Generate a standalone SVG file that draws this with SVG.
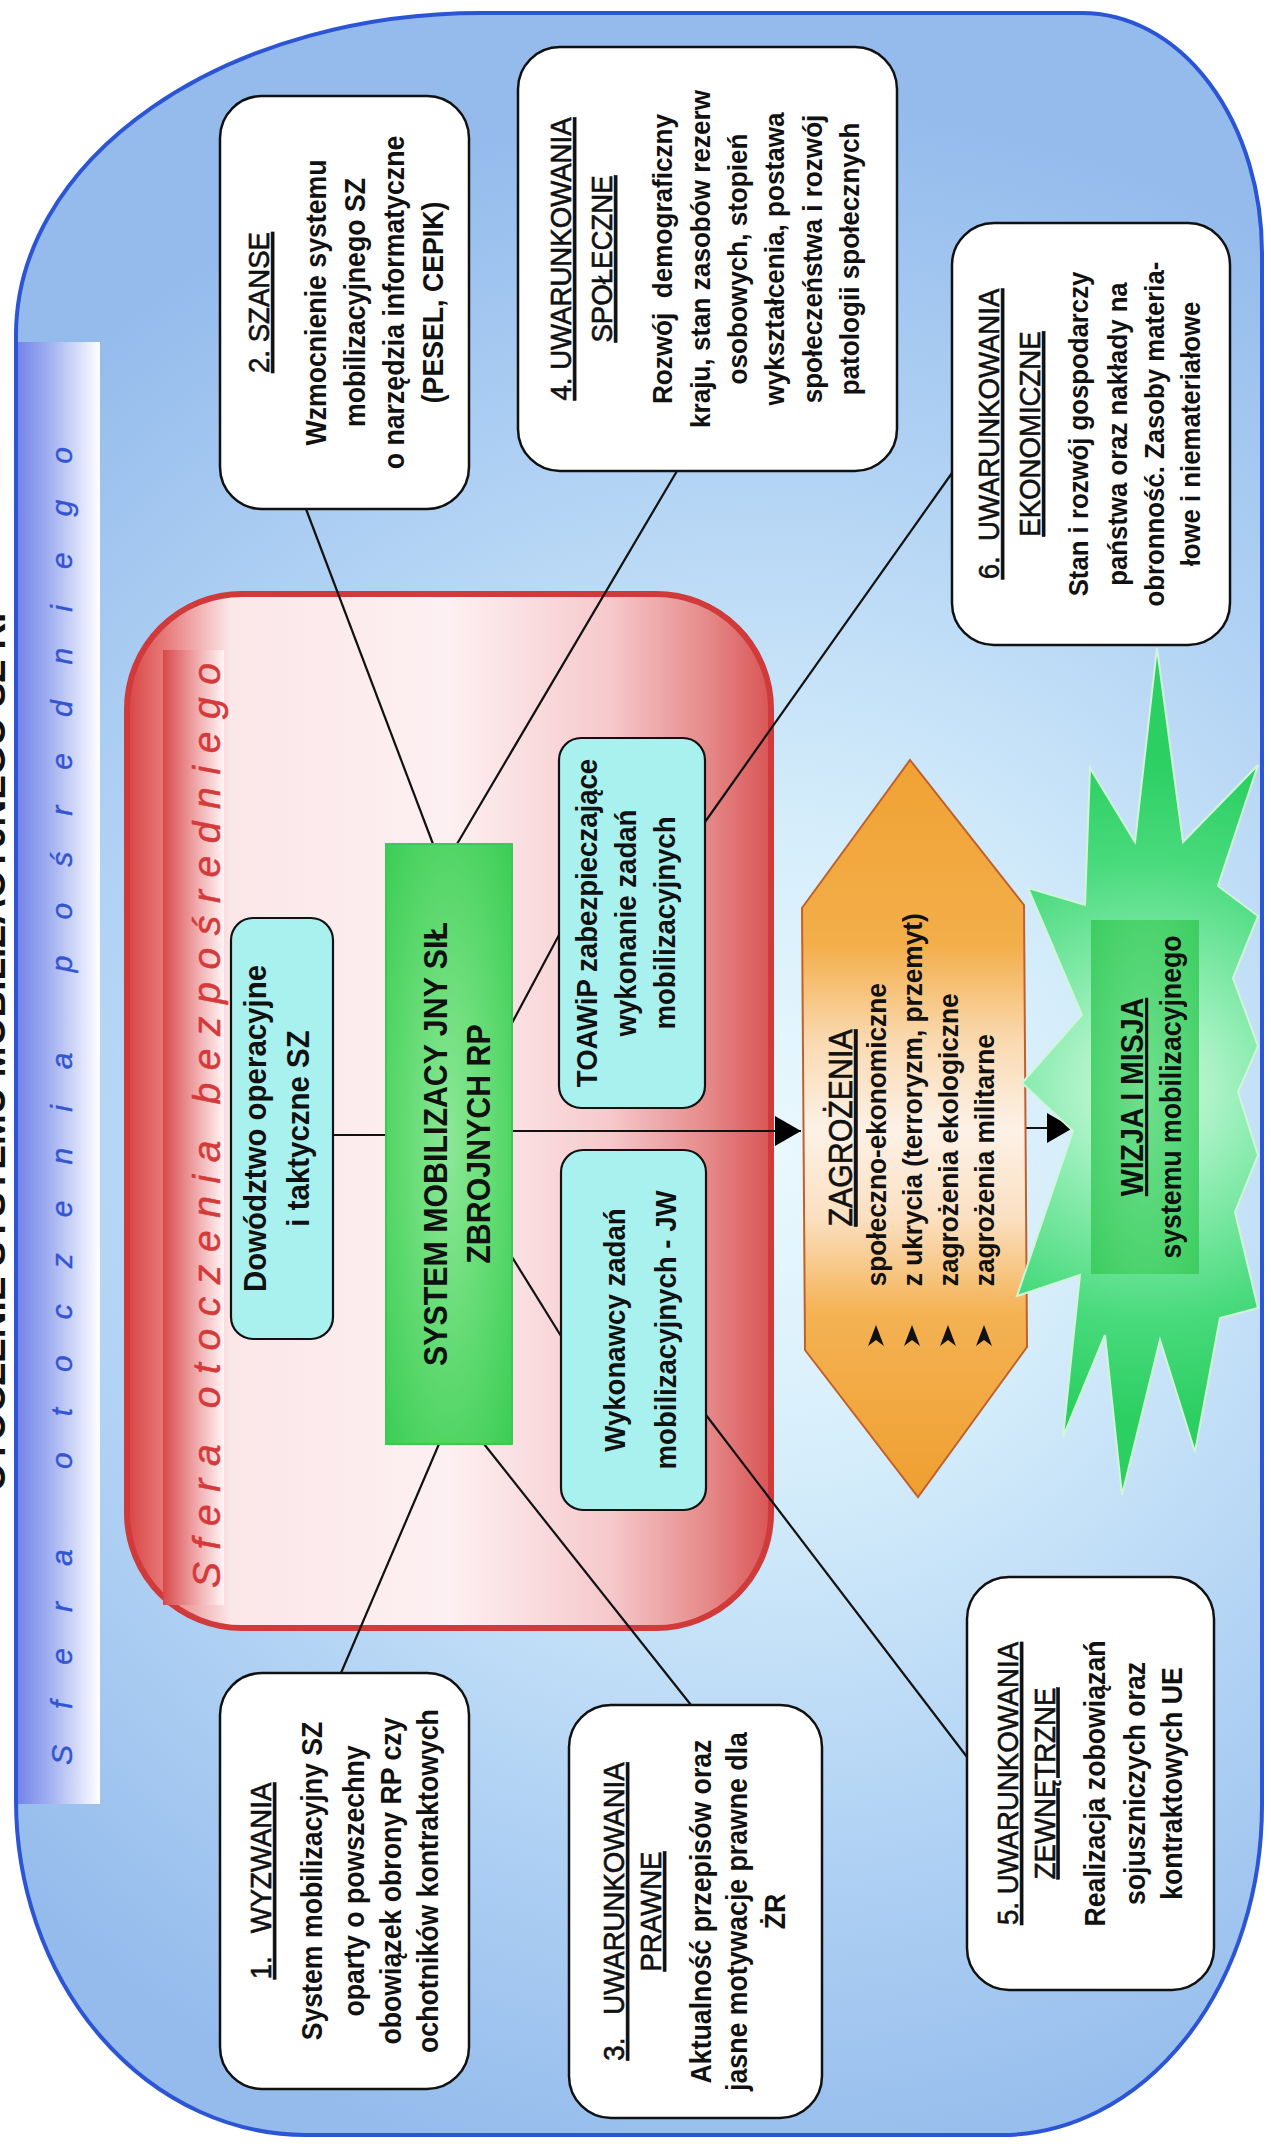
<svg xmlns="http://www.w3.org/2000/svg" width="1271" height="2144" viewBox="0 0 1271 2144">
<defs>
  <radialGradient id="gBlue" gradientUnits="userSpaceOnUse" cx="760" cy="1150" r="1050">
    <stop offset="0" stop-color="#eaf8fd"/>
    <stop offset="0.3" stop-color="#d6eefb"/>
    <stop offset="0.65" stop-color="#b2d3f4"/>
    <stop offset="1" stop-color="#94bbec"/>
  </radialGradient>
  <linearGradient id="gBandB" x1="0" y1="0" x2="1" y2="0">
    <stop offset="0" stop-color="#7585ea"/>
    <stop offset="0.35" stop-color="#9cacf0"/>
    <stop offset="1" stop-color="#ffffff"/>
  </linearGradient>
  <linearGradient id="gRed" x1="0" y1="0" x2="1" y2="0">
    <stop offset="0" stop-color="#d84545"/>
    <stop offset="0.06" stop-color="#e77a7a"/>
    <stop offset="0.16" stop-color="#fbe6e8"/>
    <stop offset="0.5" stop-color="#fdf0f2"/>
    <stop offset="0.75" stop-color="#f6c9cc"/>
    <stop offset="0.9" stop-color="#e68a8a"/>
    <stop offset="1" stop-color="#d95555"/>
  </linearGradient>
  <linearGradient id="gBandR" x1="0" y1="0" x2="1" y2="0">
    <stop offset="0" stop-color="#d8484a"/>
    <stop offset="0.5" stop-color="#eea0a2"/>
    <stop offset="1" stop-color="#fff5f5"/>
  </linearGradient>
  <radialGradient id="gGreen" cx="0.5" cy="0.5" r="0.7">
    <stop offset="0" stop-color="#8ce896"/>
    <stop offset="0.6" stop-color="#5bd86c"/>
    <stop offset="1" stop-color="#3ccd55"/>
  </radialGradient>
  <linearGradient id="gHex" x1="0" y1="0" x2="0" y2="1">
    <stop offset="0" stop-color="#f0a233"/>
    <stop offset="0.25" stop-color="#f3ae4a"/>
    <stop offset="0.38" stop-color="#fad9b0"/>
    <stop offset="0.5" stop-color="#fdf1e6"/>
    <stop offset="0.62" stop-color="#fbe0c2"/>
    <stop offset="0.75" stop-color="#f4b253"/>
    <stop offset="1" stop-color="#ef9f30"/>
  </linearGradient>
  <radialGradient id="gStar" gradientUnits="userSpaceOnUse" cx="1145" cy="1090" r="330">
    <stop offset="0" stop-color="#d8fbe4"/>
    <stop offset="0.35" stop-color="#8cecb0"/>
    <stop offset="0.7" stop-color="#48da7c"/>
    <stop offset="1" stop-color="#2ccf62"/>
  </radialGradient>
  <radialGradient id="gWiz" cx="0.5" cy="0.5" r="0.7">
    <stop offset="0" stop-color="#6fe08e"/>
    <stop offset="1" stop-color="#3dcd60"/>
  </radialGradient>
  <marker id="ah" markerUnits="userSpaceOnUse" markerWidth="28" markerHeight="30" refX="26" refY="15" orient="auto">
    <path d="M0,0 L26,15 L0,30 Z" fill="#000"/>
  </marker>
  <path id="bul" d="M0,-11 L8,10 L0,4 L-8,10 Z" fill="#111"/>
</defs>
<style>
  .box{fill:#ffffff;stroke:#111;stroke-width:2.5}
  .cy{fill:#a9f1ef;stroke:#111;stroke-width:2.2}
  .b{font-family:"Liberation Sans",Arial,sans-serif;font-weight:bold;fill:#111;text-anchor:middle}
  .h{font-family:"Liberation Sans",Arial,sans-serif;font-weight:normal;fill:#111;stroke:#111;stroke-width:0.6;text-anchor:middle;text-decoration:underline}
  .u{text-decoration:underline}
  .st{text-anchor:start}
  .ln{stroke:#111;stroke-width:2.2;fill:none}
</style>
<rect x="0" y="0" width="1271" height="2144" fill="#ffffff"/>

<!-- outer sphere -->
<g id="outer">
  <path d="M16,335 A465,322 0 0 1 481,13 H1082 A180,240 0 0 1 1262,253 V1805 A260,330 0 0 1 1002,2135 H306 A290,335 0 0 1 16,1800 Z" fill="url(#gBlue)"/>
  <rect x="18" y="342" width="82" height="1462" fill="url(#gBandB)"/>
  <path d="M16,335 A465,322 0 0 1 481,13 H1082 A180,240 0 0 1 1262,253 V1805 A260,330 0 0 1 1002,2135 H306 A290,335 0 0 1 16,1800 Z" fill="none" stroke="#2b55d5" stroke-width="4"/>
  <text transform="translate(72,1765) rotate(-90)" x="0" y="0" textLength="1318" lengthAdjust="spacing" font-family="Liberation Sans, Arial, sans-serif" font-style="italic" font-size="30" fill="#3355d0" stroke="#3355d0" stroke-width="0.4">Sfera otoczenia pośredniego</text>
  <text transform="translate(5,1045) rotate(-90)" x="0" y="0" text-anchor="middle" font-family="Liberation Sans, Arial, sans-serif" font-weight="bold" font-size="37" fill="#111">OTOCZENIE SYSTEMU MOBILIZACYJNEGO SZ RP</text>
</g>

<!-- inner sphere -->
<g id="inner">
  <rect x="127" y="594" width="644" height="1034" rx="115" fill="url(#gRed)" stroke="#d03a3a" stroke-width="6"/>
  <rect x="163" y="650" width="61" height="955" fill="url(#gBandR)"/>
  <text transform="translate(220,1588) rotate(-90)" x="0" y="0" textLength="925" lengthAdjust="spacing" font-family="Liberation Sans, Arial, sans-serif" font-style="italic" font-size="39" fill="#d43a3a" stroke="#d43a3a" stroke-width="0.5">Sfera otoczenia bezpośredniego</text>
</g>

<!-- connectors -->
<g id="connectors" class="ln">
  <line x1="306" y1="509" x2="433" y2="844"/>
  <line x1="677" y1="471" x2="457" y2="844"/>
  <line x1="952" y1="473" x2="705" y2="822"/>
  <line x1="512" y1="1023" x2="559" y2="935"/>
  <line x1="333" y1="1135" x2="386" y2="1135"/>
  <line x1="512" y1="1131" x2="801" y2="1131" marker-end="url(#ah)"/>
  <line x1="512" y1="1257" x2="561" y2="1336"/>
  <line x1="706" y1="1415" x2="967" y2="1757"/>
  <line x1="439" y1="1444" x2="341" y2="1673"/>
  <line x1="484" y1="1444" x2="691" y2="1705"/>
  <line x1="1024" y1="1128" x2="1073" y2="1128" marker-end="url(#ah)"/>
</g>

<!-- 2. SZANSE -->
<g id="n2">
  <rect class="box" x="220" y="96" width="249" height="413" rx="42"/>
  <g transform="translate(344.5,302.5) rotate(-90) scale(0.92,1)">
    <text class="h" font-size="30" y="-75.5">2. SZANSE</text>
    <text class="b" font-size="29" y="-19">Wzmocnienie systemu</text>
    <text class="b" font-size="29" y="20.5">mobilizacyjnego SZ</text>
    <text class="b" font-size="29" y="60">o narzędzia informatyczne</text>
    <text class="b" font-size="29" y="99">(PESEL, CEPIK)</text>
  </g>
</g>

<!-- 4. SPOŁECZNE -->
<g id="n4">
  <rect class="box" x="518" y="47" width="379" height="424" rx="42"/>
  <g transform="translate(707.5,259) rotate(-90) scale(0.92,1)">
    <text class="h" font-size="30" y="-136.5">4. UWARUNKOWANIA</text>
    <text class="h" font-size="30" y="-95.5">SPOŁECZNE</text>
    <text class="b" font-size="28.4" y="-35.5" xml:space="preserve">Rozwój  demograficzny</text>
    <text class="b" font-size="28.4" y="2">kraju, stan zasobów rezerw</text>
    <text class="b" font-size="28.4" y="39.5">osobowych, stopień</text>
    <text class="b" font-size="28.4" y="77">wykształcenia, postawa</text>
    <text class="b" font-size="28.4" y="114.5">społeczeństwa i rozwój</text>
    <text class="b" font-size="28.4" y="152">patologii społecznych</text>
  </g>
</g>

<!-- 6. EKONOMICZNE -->
<g id="n6">
  <rect class="box" x="952" y="223" width="278" height="422" rx="42"/>
  <g transform="translate(1091,434) rotate(-90) scale(0.92,1)">
    <text class="h" font-size="30" y="-92" xml:space="preserve">6.  UWARUNKOWANIA</text>
    <text class="h" font-size="30" y="-51">EKONOMICZNE</text>
    <text class="b" font-size="28" y="-3">Stan i rozwój gospodarczy</text>
    <text class="b" font-size="28" y="36">państwa oraz nakłady na</text>
    <text class="b" font-size="28" y="73">obronność. Zasoby materia-</text>
    <text class="b" font-size="28" y="109">łowe i niemateriałowe</text>
  </g>
</g>

<!-- 1. WYZWANIA -->
<g id="n1">
  <rect class="box" x="220" y="1673" width="249" height="416" rx="42"/>
  <g transform="translate(344.5,1881) rotate(-90) scale(0.92,1)">
    <text class="h" font-size="30" y="-73.5" xml:space="preserve">1.   WYZWANIA</text>
    <text class="b" font-size="29" y="-22.5">System mobilizacyjny SZ</text>
    <text class="b" font-size="29" y="19.5">oparty o powszechny</text>
    <text class="b" font-size="29" y="56.5">obowiązek obrony RP czy</text>
    <text class="b" font-size="29" y="93.5">ochotników kontraktowych</text>
  </g>
</g>

<!-- 3. PRAWNE -->
<g id="n3">
  <rect class="box" x="569" y="1705" width="253" height="413" rx="42"/>
  <g transform="translate(695.5,1911.5) rotate(-90) scale(0.92,1)">
    <text class="h" font-size="30" y="-71.5" xml:space="preserve">3.   UWARUNKOWANIA</text>
    <text class="h" font-size="30" y="-34.5">PRAWNE</text>
    <text class="b" font-size="29" y="15.5">Aktualność przepisów oraz</text>
    <text class="b" font-size="29" y="52">jasne motywacje prawne dla</text>
    <text class="b" font-size="29" y="90">ŻR</text>
  </g>
</g>

<!-- 5. ZEWNĘTRZNE -->
<g id="n5">
  <rect class="box" x="967" y="1577" width="247" height="413" rx="42"/>
  <g transform="translate(1090.5,1783.5) rotate(-90) scale(0.92,1)">
    <text class="h" font-size="30" y="-72.5">5. UWARUNKOWANIA</text>
    <text class="h" font-size="30" y="-36">ZEWNĘTRZNE</text>
    <text class="b" font-size="29" y="14.5">Realizacja zobowiązań</text>
    <text class="b" font-size="29" y="54.5">sojuszniczych oraz</text>
    <text class="b" font-size="29" y="91.5">kontraktowych UE</text>
  </g>
</g>

<!-- Dowództwo -->
<g id="nD">
  <rect class="cy" x="231" y="918" width="102" height="421" rx="22"/>
  <g transform="translate(282,1128.5) rotate(-90) scale(0.92,1)">
    <text class="b" font-size="32" y="-16">Dowództwo operacyjne</text>
    <text class="b" font-size="32" y="27">i taktyczne SZ</text>
  </g>
</g>

<!-- SYSTEM -->
<g id="nS">
  <rect x="386" y="844" width="126" height="600" fill="url(#gGreen)" stroke="#3cc852" stroke-width="2"/>
  <g transform="translate(449,1144) rotate(-90) scale(0.92,1)">
    <text class="b" font-size="33" y="-2">SYSTEM MOBILIZACY JNY SIŁ</text>
    <text class="b" font-size="33" y="41">ZBROJNYCH RP</text>
  </g>
</g>

<!-- TOAWiP -->
<g id="nT">
  <rect class="cy" x="559" y="738" width="146" height="370" rx="22"/>
  <g transform="translate(632,923) rotate(-90) scale(0.92,1)">
    <text class="b" font-size="30" y="-35">TOAWiP zabezpieczające</text>
    <text class="b" font-size="30" y="4">wykonanie zadań</text>
    <text class="b" font-size="30" y="43">mobilizacyjnych</text>
  </g>
</g>

<!-- Wykonawcy -->
<g id="nW">
  <rect class="cy" x="561" y="1150" width="145" height="360" rx="22"/>
  <g transform="translate(633.5,1330) rotate(-90) scale(0.92,1)">
    <text class="b" font-size="30" y="-9">Wykonawcy zadań</text>
    <text class="b" font-size="30" y="43">mobilizacyjnych - JW</text>
  </g>
</g>

<!-- ZAGROŻENIA -->
<g id="nZ">
  <polygon points="910,760 1024,905 1027,1347 918,1497 805,1350 802,908" fill="url(#gHex)" stroke="#c0602a" stroke-width="2"/>
  <g transform="translate(912,1128) rotate(-90) scale(0.92,1)">
    <text class="h" font-size="33" y="-60">ZAGROŻENIA</text>
    <text class="b st" font-size="28.5" x="-172" y="-26">społeczno-ekonomiczne</text>
    <text class="b st" font-size="28.5" x="-172" y="10">z ukrycia (terroryzm, przemyt)</text>
    <text class="b st" font-size="28.5" x="-172" y="46">zagrożenia ekologiczne</text>
    <text class="b st" font-size="28.5" x="-172" y="82">zagrożenia militarne</text>
  </g>
  <use href="#bul" x="876" y="1336"/>
  <use href="#bul" x="912" y="1336"/>
  <use href="#bul" x="948" y="1336"/>
  <use href="#bul" x="984" y="1336"/>
</g>

<!-- WIZJA I MISJA -->
<g id="nV">
  <polygon points="1157,648 1183,842 1258,765 1218,886 1258,916 1233,978 1258,1046 1238,1092 1258,1155 1235,1212 1258,1308 1220,1318 1195,1452 1160,1340 1122,1495 1105,1335 1063,1437 1080,1275 1017,1296 1073,1131 1022,1083 1082,1015 1028,888 1085,905 1090,768 1135,842" fill="url(#gStar)" stroke="#d0f5d8" stroke-width="2"/>
  <rect x="1091" y="920" width="108" height="354" fill="url(#gWiz)"/>
  <g transform="translate(1145,1097) rotate(-90) scale(0.92,1)">
    <text class="b u" font-size="31" y="-2">WIZJA I MISJA</text>
    <text class="b" font-size="29" y="36">systemu mobilizacyjnego</text>
  </g>
</g>
</svg>
